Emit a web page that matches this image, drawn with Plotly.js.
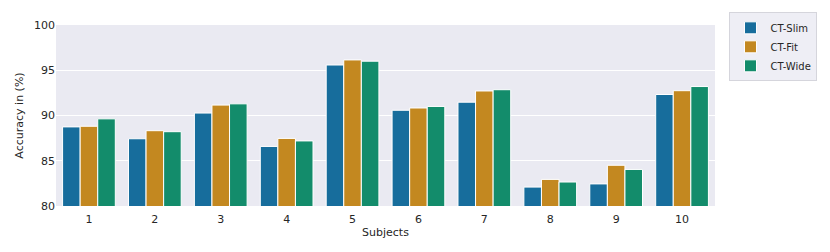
<!DOCTYPE html>
<html><head><meta charset="utf-8">
<script src="https://cdn.plot.ly/plotly-3.0.1.min.js"></script>
<style>body{margin:0;padding:0;background:#fff}</style>
</head><body>
<div id="chart" style="width:830px;height:252px"></div>
<script>
var subjects = ["1","2","3","4","5","6","7","8","9","10"];
var ctSlim = [88.74, 87.43, 90.27, 86.58, 95.58, 90.58, 91.47, 82.09, 82.44, 92.32];
var ctFit  = [88.81, 88.32, 91.15, 87.47, 96.14, 90.83, 92.71, 82.94, 84.50, 92.74];
var ctWide = [89.63, 88.21, 91.29, 87.19, 96.00, 91.00, 92.85, 82.65, 84.04, 93.20];
var seriesNames = ["CT-Slim", "CT-Fit", "CT-Wide"];
var colors = ["#176d9c", "#c38820", "#138c6b"];
var allSeries = [ctSlim, ctFit, ctWide];

var traces = allSeries.map(function(vals, i){
  return {
    type: "bar", x: subjects, y: vals, name: seriesNames[i],
    marker: {color: colors[i], line: {color: "#ffffff", width: 1}},
    hoverinfo: "x+y+name"
  };
});
var font = {family: "DejaVu Sans, sans-serif", size: 11, color: "#262626"};
var layout = {
  width: 830, height: 252,
  margin: {l: 56, r: 113, t: 18, b: 46},
  paper_bgcolor: "#ffffff", plot_bgcolor: "#eaeaf2",
  font: font,
  barmode: "group", bargap: 0.2, bargroupgap: 0,
  showlegend: true,
  legend: {x: 1.022, y: 1.07, xanchor: "left", yanchor: "top",
    bgcolor: "rgba(234,234,242,0.8)", bordercolor: "#d5d5dc", borderwidth: 1,
    font: {family: "DejaVu Sans, sans-serif", size: 10, color: "#262626"},
    itemwidth: 30, tracegroupgap: 0},
  xaxis: {type: "category", range: [-0.5, 9.5], showgrid: false, zeroline: false,
    ticks: "outside", ticklen: 3, tickcolor: "rgba(0,0,0,0)", tickfont: font, showline: false,
    title: {text: "Subjects", font: font, standoff: 3}},
  yaxis: {range: [80, 100], dtick: 5, showgrid: true, gridcolor: "#ffffff", gridwidth: 1,
    zeroline: false, ticks: "", tickfont: font, showline: false,
    title: {text: "Accuracy in (%)", font: font, standoff: 8}}
};
Plotly.newPlot("chart", traces, layout, {displayModeBar: false, staticPlot: true});
</script>
</body></html>
